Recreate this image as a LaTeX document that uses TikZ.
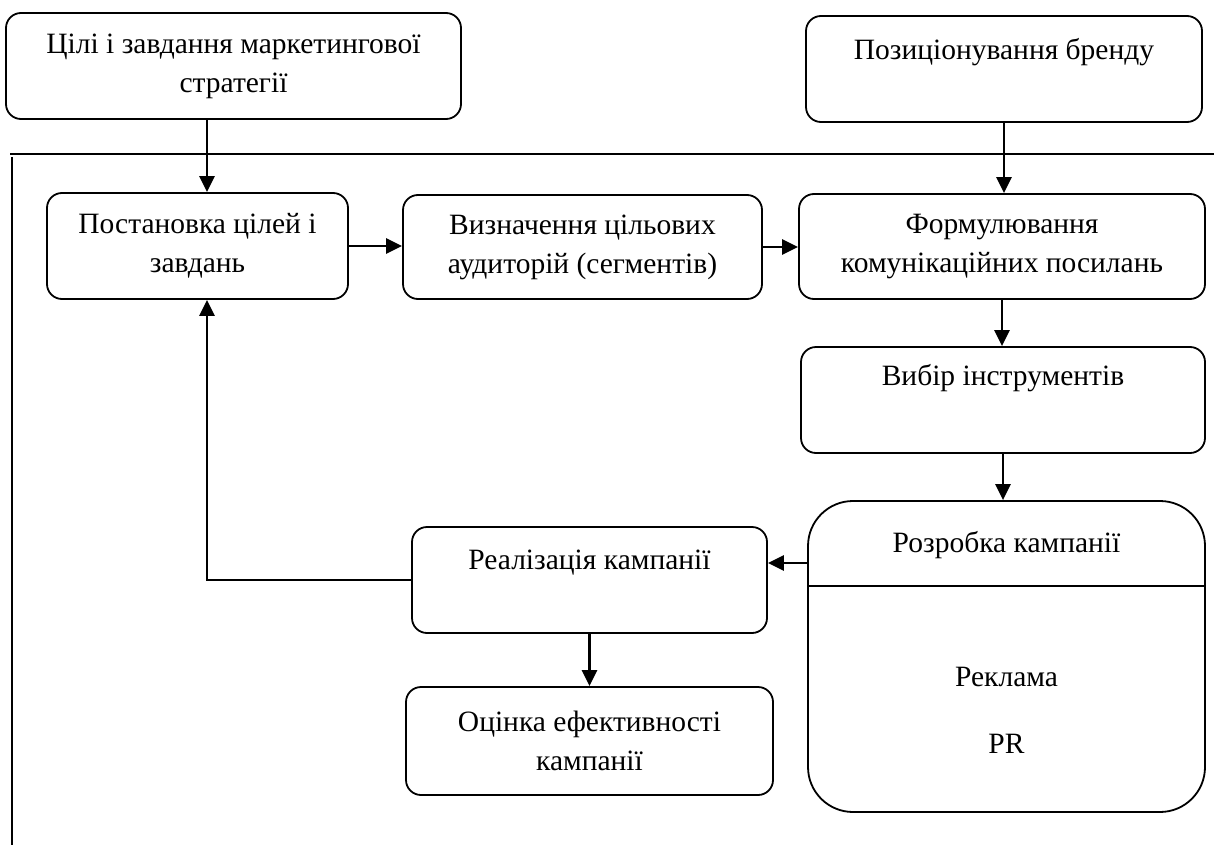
\documentclass[tikz,border=0pt]{standalone}
\usepackage{fontspec}
\setmainfont{Liberation Serif}
\usetikzlibrary{arrows.meta}

\begin{document}
\begin{tikzpicture}[
    x=1pt, y=-1pt,
    box/.style={rectangle, rounded corners=15pt, draw, line width=1.8pt, align=center, inner sep=0pt, font=\fontsize{29.5}{39}\selectfont},
    lbl/.style={inner sep=0pt, font=\fontsize{29.5}{39}\selectfont},
    arrow/.style={-{Triangle[length=16pt, width=15pt]}, line width=2.5pt},
    frame/.style={line width=1.5pt}
]
    \useasboundingbox (0,0) rectangle (1214,845);

    \node[box, minimum width=455pt, minimum height=106pt] (goals) at (233.5,66) {Цілі і завдання маркетингової\\стратегії};
    \node[box, minimum width=396pt, minimum height=106pt] (brand) at (1004,69) {Позиціонування бренду\\[-10pt]\strut};

    \node[box, minimum width=301pt, minimum height=106pt] (post) at (197.5,246) {Постановка цілей і\\завдань};
    \node[box, minimum width=359pt, minimum height=104pt] (aud) at (582.5,247) {Визначення цільових\\аудиторій (сегментів)};
    \node[box, minimum width=406pt, minimum height=105pt] (form) at (1002,246.5) {Формулювання\\комунікаційних посилань};
    \node[box, minimum width=404pt, minimum height=106pt] (tools) at (1003,400) {Вибір інструментів\\\strut};

    \node[box, rounded corners=45pt, minimum width=397pt, minimum height=311pt] (dev) at (1006.5,656.5) {};
    \node[lbl] (devtitle) at (1006.5,545) {Розробка кампанії};
    \node[lbl] (ads) at (1006.5,677) {Реклама};
    \node[lbl] (pr) at (1006.5,744) {PR};

    \node[box, minimum width=355pt, minimum height=106pt] (real) at (589.5,580) {Реалізація кампанії\\[-10pt]\strut};
    \node[box, minimum width=367pt, minimum height=108pt] (eval) at (589.5,741) {Оцінка ефективності\\кампанії};

    % frame lines
    \draw[frame] (10,154) -- (1214,154);
    \draw[frame] (12,157) -- (12,845);
    \coordinate (divy) at (0,586);
    \draw[line width=1.5pt] (dev.west |- divy) -- (dev.east |- divy);

    \coordinate (fb) at (207,580);
    \coordinate (back) at (0,563);

    \draw[arrow] (fb |- goals.south) -- (fb |- post.north);
    \draw[arrow] (brand.south) -- (brand.south |- form.north);
    \draw[arrow] (post.east) -- (post.east -| aud.west);
    \draw[arrow] (aud.east) -- (aud.east -| form.west);
    \draw[arrow] (form.south) -- (form.south |- tools.north);
    \draw[arrow] (tools.south) -- (tools.south |- dev.north);
    \draw[arrow] (dev.west |- back) -- (real.east |- back);
    \draw[arrow] (real.south) -- (real.south |- eval.north);
    \draw[arrow] (real.west) -- (fb) -- (fb |- post.south);
\end{tikzpicture}
\end{document}
